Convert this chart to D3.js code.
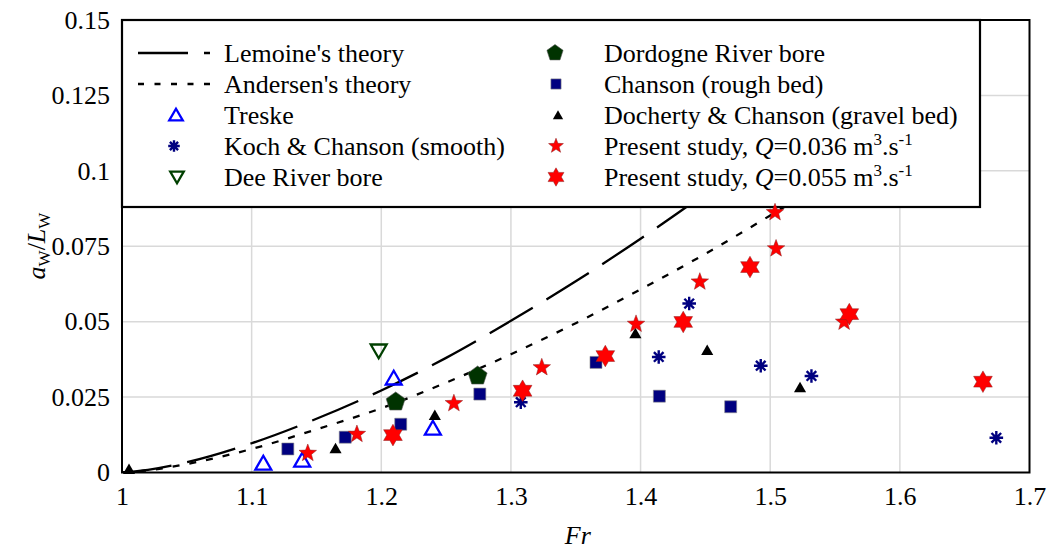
<!DOCTYPE html>
<html><head><meta charset="utf-8">
<script src="https://cdn.jsdelivr.net/npm/d3@7"></script>
<style>body{margin:0;background:#fff}svg{display:block;font-family:"Liberation Serif","Times New Roman",serif}</style>
</head><body><svg id="c" width="1049" height="549"></svg>
<script>
// ---- data ----
const xTicks = [1, 1.1, 1.2, 1.3, 1.4, 1.5, 1.6, 1.7];
const xTickLabels = ["1", "1.1", "1.2", "1.3", "1.4", "1.5", "1.6", "1.7"];
const yTicks = [0, 0.025, 0.05, 0.075, 0.1, 0.125, 0.15];
const yTickLabels = ["0", "0.025", "0.05", "0.075", "0.1", "0.125", "0.15"];

const lemoineFr = [1.0, 1.02, 1.05, 1.1, 1.15, 1.2, 1.25, 1.3, 1.35, 1.4, 1.45, 1.48];
const lemoineA  = [0, 0.0009, 0.0034, 0.0097, 0.0178, 0.0272, 0.0380, 0.0503, 0.0634, 0.0775, 0.0925, 0.102];
const andersenFr = [1.0, 1.02, 1.05, 1.1, 1.15, 1.2, 1.25, 1.3, 1.35, 1.4, 1.45, 1.5, 1.53];
const andersenA  = [0, 0.0007, 0.0028, 0.0078, 0.0143, 0.0213, 0.0298, 0.0392, 0.0495, 0.0607, 0.0725, 0.0852, 0.093];

const treskeFr = [1.109, 1.139, 1.2096, 1.2398];
const treskeA  = [0.0031, 0.0041, 0.0313, 0.0147];
const kochFr = [1.3076, 1.414, 1.4375, 1.4927, 1.5318, 1.6744];
const kochA  = [0.0233, 0.0383, 0.056, 0.0354, 0.032, 0.0115];
const deeFr = [1.198];
const deeA  = [0.0403];
const dordogneFr = [1.2111, 1.2743];
const dordogneA  = [0.0234, 0.032];
const chansonFr = [1.1279, 1.1722, 1.215, 1.276, 1.3656, 1.4145, 1.4695];
const chansonA  = [0.0078, 0.0117, 0.016, 0.026, 0.0365, 0.0253, 0.0218];
const dochertyFr = [1.0054, 1.1647, 1.2413, 1.396, 1.4514, 1.523];
const dochertyA  = [0.0011, 0.008, 0.019, 0.0461, 0.0406, 0.0282];
const q036Fr = [1.1433, 1.1812, 1.256, 1.3238, 1.3965, 1.4457, 1.5037, 1.5045, 1.557];
const q036A  = [0.0064, 0.0127, 0.0229, 0.0348, 0.0492, 0.0632, 0.0862, 0.0742, 0.0499];
const q055Fr = [1.209, 1.309, 1.3728, 1.4329, 1.4844, 1.561, 1.6641];
const q055A  = [0.0124, 0.0271, 0.0386, 0.0499, 0.0681, 0.0525, 0.0301];

// ---- layout ----
const svg = d3.select("#c");
const L = 122, R = 1029.5, T = 20, B = 472.5;
const x = d3.scaleLinear().domain([1, 1.7]).range([L, R]);
const y = d3.scaleLinear().domain([0, 0.15]).range([B, T]);
const FS = 26;
const FAM = "Liberation Serif";

// gridlines
svg.append("g").selectAll("line").data(xTicks.slice(1, -1)).join("line")
  .attr("x1", d => x(d)).attr("x2", d => x(d)).attr("y1", T).attr("y2", B)
  .attr("stroke", "#d9d9d9").attr("stroke-width", 1.5);
svg.append("g").selectAll("line").data(yTicks.slice(1, -1)).join("line")
  .attr("x1", L).attr("x2", R).attr("y1", d => y(d)).attr("y2", d => y(d))
  .attr("stroke", "#d9d9d9").attr("stroke-width", 1.5);

// axes (labels only)
const xAxis = d3.axisBottom(x).tickValues(xTicks).tickSize(0).tickPadding(14)
  .tickFormat((d, i) => xTickLabels[i]);
const gx = svg.append("g").attr("transform", `translate(0,${B})`).call(xAxis);
gx.select(".domain").remove();
gx.selectAll("text").attr("font-size", FS).attr("font-family", FAM).attr("fill", "#000");

const yAxis = d3.axisLeft(y).tickValues(yTicks).tickSize(0).tickPadding(12)
  .tickFormat((d, i) => yTickLabels[i]);
const gy = svg.append("g").attr("transform", `translate(${L},0)`).call(yAxis);
gy.select(".domain").remove();
gy.selectAll("text").attr("font-size", FS).attr("font-family", FAM).attr("fill", "#000");

// axis titles
svg.append("text").attr("x", (L + R) / 2 + 2).attr("y", 544).attr("text-anchor", "middle")
  .attr("font-size", FS).attr("font-family", FAM).attr("font-style", "italic").text("Fr");
const yt = svg.append("text").attr("transform", "translate(45,246) rotate(-90)")
  .attr("text-anchor", "middle").attr("font-size", FS).attr("font-family", FAM);
yt.append("tspan").attr("font-style", "italic").text("a");
yt.append("tspan").attr("font-size", 17).attr("dy", 5).text("W");
yt.append("tspan").attr("dy", -5).text("/");
yt.append("tspan").attr("font-style", "italic").text("L");
yt.append("tspan").attr("font-size", 17).attr("dy", 5).text("W");

// clip
svg.append("clipPath").attr("id", "clip").append("rect")
  .attr("x", L).attr("y", T).attr("width", R - L).attr("height", B - T);

// theory lines
const line = d3.line().x(d => x(d[0])).y(d => y(d[1])).curve(d3.curveMonotoneX);
svg.append("path").datum(lemoineFr.map((f, i) => [f, lemoineA[i]]))
  .attr("d", line).attr("fill", "none").attr("stroke", "#000").attr("stroke-width", 2.3)
  .attr("stroke-dasharray", "50,16").attr("clip-path", "url(#clip)");
svg.append("path").datum(andersenFr.map((f, i) => [f, andersenA[i]]))
  .attr("d", line).attr("fill", "none").attr("stroke", "#000").attr("stroke-width", 2.3)
  .attr("stroke-dasharray", "7,10").attr("clip-path", "url(#clip)");

// legend box
svg.append("rect").attr("x", L).attr("y", T).attr("width", 980 - L).attr("height", 207 - T)
  .attr("fill", "#fff").attr("stroke", "#000").attr("stroke-width", 2.2);

// frame
svg.append("rect").attr("x", L).attr("y", T).attr("width", R - L).attr("height", B - T)
  .attr("fill", "none").attr("stroke", "#000").attr("stroke-width", 2);

// ---- custom symbol types (size = radius) ----
function poly(ctx, pts) { ctx.moveTo(pts[0][0], pts[0][1]); for (let i = 1; i < pts.length; i++) ctx.lineTo(pts[i][0], pts[i][1]); ctx.closePath(); }
function ngon(n, r, rot) { const p = []; for (let i = 0; i < n; i++) { const a = rot + i * 2 * Math.PI / n; p.push([r * Math.cos(a), r * Math.sin(a)]); } return p; }
function starPts(n, ro, ri, rot) { const p = []; for (let i = 0; i < 2 * n; i++) { const a = rot + i * Math.PI / n; const r = i % 2 ? ri : ro; p.push([r * Math.cos(a), r * Math.sin(a)]); } return p; }
const triUp = {draw(c, r) { poly(c, ngon(3, r, -Math.PI / 2).map(p => [p[0], p[1] + r * 0.2])); }};
const triDown = {draw(c, r) { poly(c, ngon(3, r, Math.PI / 2).map(p => [p[0], p[1] - r * 0.2])); }};
const pent = {draw(c, r) { poly(c, ngon(5, r, -Math.PI / 2)); }};
const sq = {draw(c, r) { poly(c, [[-r, -r], [r, -r], [r, r], [-r, r]]); }};
const star5 = {draw(c, r) { poly(c, starPts(5, r, r * 0.42, -Math.PI / 2)); }};
const star6 = {draw(c, r) { poly(c, starPts(6, r, r * 0.577, -Math.PI / 2)); }};
const aster = {draw(c, r) { for (let i = 0; i < 4; i++) { const a = i * Math.PI / 4; c.moveTo(-r * Math.cos(a), -r * Math.sin(a)); c.lineTo(r * Math.cos(a), r * Math.sin(a)); } }};

const series = [
  {fr: treskeFr, a: treskeA, type: triUp, size: 9.2, fill: "none", stroke: "#0000ff", sw: 2.3},
  {fr: deeFr, a: deeA, type: triDown, size: 9.2, fill: "none", stroke: "#004000", sw: 2.3},
  {fr: dordogneFr, a: dordogneA, type: pent, size: 10, fill: "#003300", stroke: "#555", sw: 0.6},
  {fr: chansonFr, a: chansonA, type: sq, size: 6, fill: "#000080", stroke: "#888", sw: 0.6},
  {fr: dochertyFr, a: dochertyA, type: triUp, size: 7, fill: "#000", stroke: "none", sw: 0},
  {fr: kochFr, a: kochA, type: aster, size: 6.8, fill: "none", stroke: "#000080", sw: 2.4},
  {fr: q036Fr, a: q036A, type: star5, size: 9.2, fill: "#ff0000", stroke: "#8a2020", sw: 0.5},
  {fr: q055Fr, a: q055A, type: star6, size: 10.8, fill: "#ff0000", stroke: "#8a2020", sw: 0.5}
];
series.forEach(s => {
  svg.append("g").selectAll("path").data(s.fr.map((f, i) => [f, s.a[i]])).join("path")
    .attr("transform", d => `translate(${x(d[0])},${y(d[1])})`)
    .attr("d", d3.symbol().type(s.type).size(s.size))
    .attr("fill", s.fill).attr("stroke", s.stroke).attr("stroke-width", s.sw);
});

// ---- legend entries ----
const rows = [53, 84, 115, 146, 177];
const lg = svg.append("g");
function ltext(xp, yp, parts) {
  const t = lg.append("text").attr("x", xp).attr("y", yp + 9).attr("font-size", FS).attr("font-family", FAM);
  parts.forEach(p => {
    const ts = t.append("tspan").text(p.t);
    if (p.i) ts.attr("font-style", "italic");
    if (p.sup) ts.attr("font-size", 17).attr("dy", -10);
    if (p.down) ts.attr("dy", 10);
  });
}
lg.append("line").attr("x1", 138).attr("x2", 210).attr("y1", rows[0]).attr("y2", rows[0])
  .attr("stroke", "#000").attr("stroke-width", 2.3).attr("stroke-dasharray", "50,16,6,0");
lg.append("line").attr("x1", 138).attr("x2", 210).attr("y1", rows[1]).attr("y2", rows[1])
  .attr("stroke", "#000").attr("stroke-width", 2.3).attr("stroke-dasharray", "6,10.5");
ltext(224, rows[0], [{t: "Lemoine's theory"}]);
ltext(224, rows[1], [{t: "Andersen's theory"}]);
const legSym = [
  {s: series[0], x: 176, y: rows[2], label: [{t: "Treske"}], tx: 224},
  {s: series[5], x: 174, y: rows[3], label: [{t: "Koch & Chanson (smooth)"}], tx: 224},
  {s: series[1], x: 177, y: rows[4], label: [{t: "Dee River bore"}], tx: 224},
  {s: series[2], x: 555, y: rows[0], label: [{t: "Dordogne River bore"}], tx: 604},
  {s: series[3], x: 556, y: rows[1], label: [{t: "Chanson (rough bed)"}], tx: 604},
  {s: series[4], x: 558, y: rows[2], label: [{t: "Docherty & Chanson (gravel bed)"}], tx: 604},
  {s: series[6], x: 556, y: rows[3], label: [{t: "Present study, "}, {t: "Q", i: 1}, {t: "=0.036 m"}, {t: "3", sup: 1}, {t: ".s", down: 1}, {t: "-1", sup: 1}], tx: 604},
  {s: series[7], x: 556, y: rows[4], label: [{t: "Present study, "}, {t: "Q", i: 1}, {t: "=0.055 m"}, {t: "3", sup: 1}, {t: ".s", down: 1}, {t: "-1", sup: 1}], tx: 604}
];
legSym.forEach(e => {
  const s = e.s;
  lg.append("path").attr("transform", `translate(${e.x},${e.y})`)
    .attr("d", d3.symbol().type(s.type).size(s.size * 0.85))
    .attr("fill", s.fill).attr("stroke", s.stroke).attr("stroke-width", s.sw);
  ltext(e.tx, e.y, e.label);
});
</script></body></html>
